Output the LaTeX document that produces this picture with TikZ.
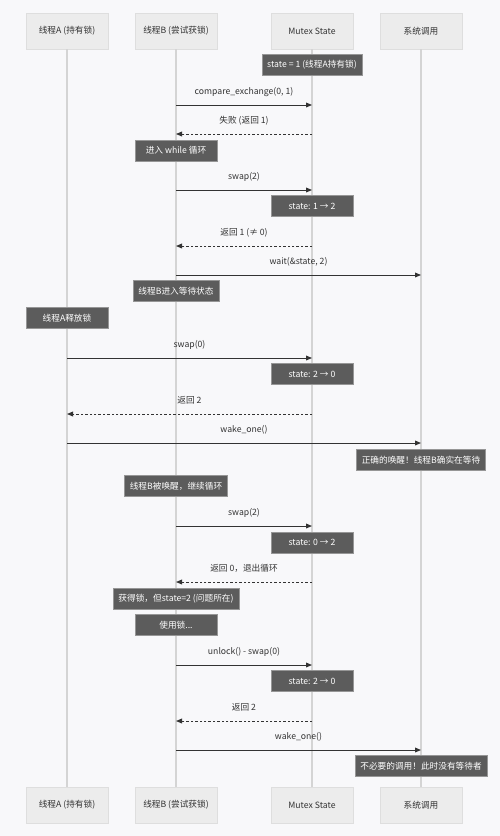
\documentclass[tikz,border=0pt]{standalone}
\usepackage{fontspec}
\setmainfont{Noto Sans CJK SC}
\usepackage{tikz}
\usetikzlibrary{arrows.meta}

\definecolor{bgcol}{RGB}{248,248,250}
\definecolor{actfill}{RGB}{236,236,236}
\definecolor{actline}{RGB}{222,222,222}
\definecolor{notefill}{RGB}{92,92,92}
\definecolor{noteline}{RGB}{150,150,150}
\definecolor{lifecol}{RGB}{212,212,212}
\definecolor{msgcol}{RGB}{51,51,51}
\definecolor{txtcol}{RGB}{51,51,51}

\begin{document}
\begin{tikzpicture}[x=0.75pt,y=0.75pt,yscale=-1,xscale=1,
    actor/.style={draw=actline,fill=actfill,minimum width=61.5pt,minimum height=27pt,inner sep=0.75pt,text=txtcol,font=\fontsize{6.5}{8}\selectfont},
    note/.style={draw=noteline,fill=notefill,text=white,minimum width=61.5pt,minimum height=15.75pt,inner xsep=4pt,inner ysep=0.75pt,font=\fontsize{6.5}{8}\selectfont},
    life/.style={draw=lifecol,line width=0.9pt},
    msg/.style={draw=msgcol,line width=0.7pt,-{Triangle[length=4.5pt,width=3.6pt]}},
    reply/.style={msg,dash pattern=on 1.8pt off 1.5pt},
    lbl/.style={midway,anchor=south,outer ysep=6pt,inner sep=0.75pt,text height=5.5pt,text depth=1.5pt,text=txtcol,font=\fontsize{6.5}{8}\selectfont}
  ]
    \fill[bgcol] (0,0) rectangle (500,836);
    \useasboundingbox (0,0) rectangle (500,836);
    % actors
    \node[actor] (hA) at (67,31) {线程A (持有锁)};
    \node[actor] (hB) at (176,31) {线程B (尝试获锁)};
    \node[actor] (hM) at (312,31) {Mutex State};
    \node[actor] (hS) at (421,31) {系统调用};
    \node[actor] (fA) at (67,805) {线程A (持有锁)};
    \node[actor] (fB) at (176,805) {线程B (尝试获锁)};
    \node[actor] (fM) at (312,805) {Mutex State};
    \node[actor] (fS) at (421,805) {系统调用};
    \draw[life] (hA) -- (fA);
    \draw[life] (hB) -- (fB);
    \draw[life] (hM) -- (fM);
    \draw[life] (hS) -- (fS);
    % messages
    \path (hB |- 0,105) coordinate (m1s) (hM |- 0,105) coordinate (m1e);
    \draw[msg] (m1s) -- node[lbl] (t1) {compare\_exchange(0, 1)} (m1e);
    \path (hM |- 0,134) coordinate (m2s) (hB |- 0,134) coordinate (m2e);
    \draw[reply] (m2s) -- node[lbl] (t2) {失败 (返回 1)} (m2e);
    \path (hB |- 0,190) coordinate (m3s) (hM |- 0,190) coordinate (m3e);
    \draw[msg] (m3s) -- node[lbl] (t3) {swap(2)} (m3e);
    \path (hM |- 0,246) coordinate (m4s) (hB |- 0,246) coordinate (m4e);
    \draw[reply] (m4s) -- node[lbl] (t4) {返回 1 (≠ 0)} (m4e);
    \path (hB |- 0,275) coordinate (m5s) (hS |- 0,275) coordinate (m5e);
    \draw[msg] (m5s) -- node[lbl] (t5) {wait(\&state, 2)} (m5e);
    \path (hA |- 0,358) coordinate (m6s) (hM |- 0,358) coordinate (m6e);
    \draw[msg] (m6s) -- node[lbl] (t6) {swap(0)} (m6e);
    \path (hM |- 0,414) coordinate (m7s) (hA |- 0,414) coordinate (m7e);
    \draw[reply] (m7s) -- node[lbl] (t7) {返回 2} (m7e);
    \path (hA |- 0,443) coordinate (m8s) (hS |- 0,443) coordinate (m8e);
    \draw[msg] (m8s) -- node[lbl] (t8) {wake\_one()} (m8e);
    \path (hB |- 0,526) coordinate (m9s) (hM |- 0,526) coordinate (m9e);
    \draw[msg] (m9s) -- node[lbl] (t9) {swap(2)} (m9e);
    \path (hM |- 0,582) coordinate (m10s) (hB |- 0,582) coordinate (m10e);
    \draw[reply] (m10s) -- node[lbl] (t10) {返回 0，退出循环} (m10e);
    \path (hB |- 0,665) coordinate (m11s) (hM |- 0,665) coordinate (m11e);
    \draw[msg] (m11s) -- node[lbl] (t11) {unlock() - swap(0)} (m11e);
    \path (hM |- 0,721) coordinate (m12s) (hB |- 0,721) coordinate (m12e);
    \draw[reply] (m12s) -- node[lbl] (t12) {返回 2} (m12e);
    \path (hB |- 0,750) coordinate (m13s) (hS |- 0,750) coordinate (m13e);
    \draw[msg] (m13s) -- node[lbl] (t13) {wake\_one()} (m13e);
    % notes
    \node[note] (n1) at (hM |- 0,65) {state = 1 (线程A持有锁)};
    \node[note] (n2) at (hB |- 0,150.5) {进入 while 循环};
    \node[note] (n3) at (hM |- 0,206) {state: 1 → 2};
    \node[note] (n4) at (hB |- 0,291) {线程B进入等待状态};
    \node[note] (n5) at (hA |- 0,318) {线程A释放锁};
    \node[note] (n6) at (hM |- 0,374) {state: 2 → 0};
    \node[note] (n7) at (hS |- 0,460) {正确的唤醒！线程B确实在等待};
    \node[note] (n8) at (hB |- 0,486) {线程B被唤醒，继续循环};
    \node[note] (n9) at (hM |- 0,542.5) {state: 0 → 2};
    \node[note] (n10) at (hB |- 0,598.5) {获得锁，但state=2 (问题所在)};
    \node[note] (n11) at (hB |- 0,625) {使用锁...};
    \node[note] (n12) at (hM |- 0,681) {state: 2 → 0};
    \node[note] (n13) at (hS |- 0,766) {不必要的调用！此时没有等待者};
\end{tikzpicture}
\end{document}
